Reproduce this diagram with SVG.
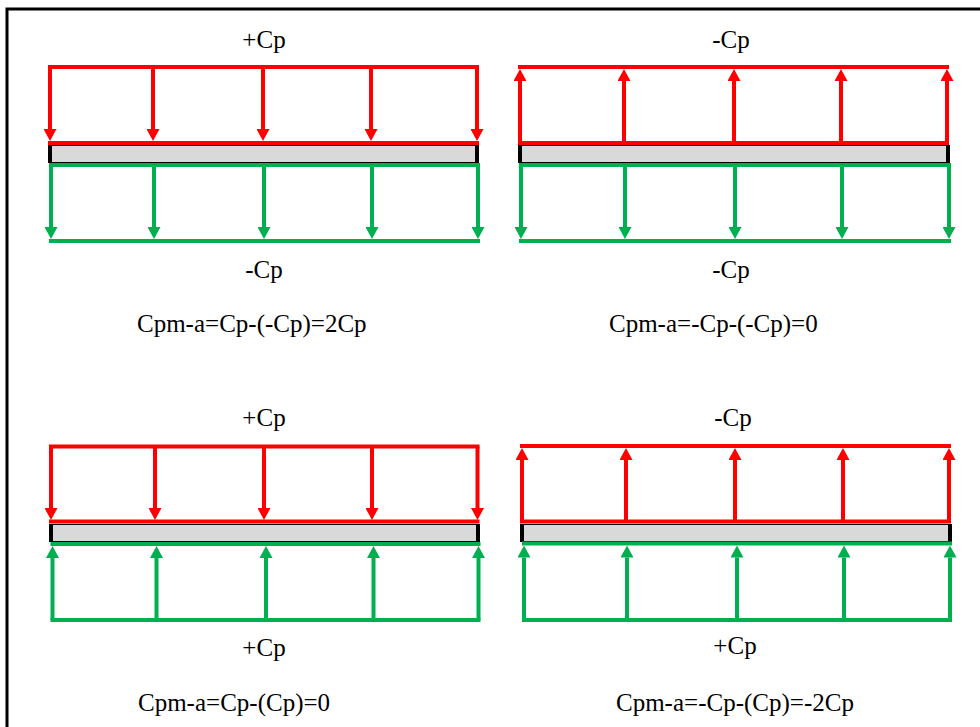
<svg xmlns="http://www.w3.org/2000/svg" width="980" height="727" viewBox="0 0 980 727">
<style>
.r{stroke:#ff0000;stroke-width:4;fill:none;stroke-linecap:square}
.g{stroke:#00b050;stroke-width:4;fill:none;stroke-linecap:square}
.ra{stroke:#ff0000;stroke-width:4;marker-end:url(#mr)}
.ga{stroke:#00b050;stroke-width:4;marker-end:url(#mg)}
.bar{fill:#d9d9d9;stroke:#000;stroke-width:1}
.end{fill:#000}
text{font-family:"Liberation Serif","Times New Roman",serif;font-size:25px;fill:#000}
.c{text-anchor:middle}
</style>
<defs>
<marker id="mr" viewBox="0 0 12 13" markerWidth="12" markerHeight="13" refX="0" refY="6.5" orient="auto" markerUnits="userSpaceOnUse"><path d="M0,0 L12,6.5 L0,13 z" fill="#ff0000"/></marker>
<marker id="mg" viewBox="0 0 12 13" markerWidth="12" markerHeight="13" refX="0" refY="6.5" orient="auto" markerUnits="userSpaceOnUse"><path d="M0,0 L12,6.5 L0,13 z" fill="#00b050"/></marker>
</defs>
<rect x="0" y="0" width="980" height="727" fill="#fff"/>
<rect x="7" y="9" width="1000" height="800" fill="none" stroke="#000" stroke-width="3"/>

<g id="panel-tl">
<line class="r" x1="50" y1="67" x2="477" y2="67"/>
<line class="r" x1="50" y1="143" x2="477" y2="143"/>
<line class="ra" x1="50" y1="67" x2="50" y2="129"/>
<line class="ra" x1="153" y1="67" x2="153" y2="129"/>
<line class="ra" x1="263" y1="67" x2="263" y2="129"/>
<line class="ra" x1="371" y1="67" x2="371" y2="129"/>
<line class="ra" x1="477" y1="67" x2="477" y2="129"/>
<rect class="bar" x="50" y="145.5" width="427" height="17"/>
<rect class="end" x="48" y="145" width="4" height="18"/>
<rect class="end" x="475" y="145" width="4" height="18"/>
<line class="g" x1="51" y1="165" x2="478" y2="165"/>
<line class="g" x1="51" y1="241" x2="478" y2="241"/>
<line class="ga" x1="51" y1="165" x2="51" y2="227"/>
<line class="ga" x1="154" y1="165" x2="154" y2="227"/>
<line class="ga" x1="264" y1="165" x2="264" y2="227"/>
<line class="ga" x1="372" y1="165" x2="372" y2="227"/>
<line class="ga" x1="478" y1="165" x2="478" y2="227"/>
<text class="c" x="264" y="48">+Cp</text>
<text class="c" x="264" y="278">-Cp</text>
<text x="137" y="332">Cpm-a=Cp-(-Cp)=2Cp</text>
</g>

<g id="panel-tr">
<line class="r" x1="520" y1="67" x2="947" y2="67"/>
<line class="r" x1="520" y1="143" x2="947" y2="143"/>
<line class="ra" x1="520" y1="143" x2="520" y2="81"/>
<line class="ra" x1="624" y1="143" x2="624" y2="81"/>
<line class="ra" x1="734" y1="143" x2="734" y2="81"/>
<line class="ra" x1="841" y1="143" x2="841" y2="81"/>
<line class="ra" x1="947" y1="143" x2="947" y2="81"/>
<rect class="bar" x="520" y="145.5" width="428" height="17"/>
<rect class="end" x="518" y="145" width="4" height="18"/>
<rect class="end" x="946" y="145" width="4" height="18"/>
<line class="g" x1="521" y1="165" x2="949" y2="165"/>
<line class="g" x1="521" y1="241" x2="949" y2="241"/>
<line class="ga" x1="521" y1="165" x2="521" y2="227"/>
<line class="ga" x1="625" y1="165" x2="625" y2="227"/>
<line class="ga" x1="735" y1="165" x2="735" y2="227"/>
<line class="ga" x1="842" y1="165" x2="842" y2="227"/>
<line class="ga" x1="949" y1="165" x2="949" y2="227"/>
<text class="c" x="731" y="48">-Cp</text>
<text class="c" x="731" y="278">-Cp</text>
<text x="609" y="332">Cpm-a=-Cp-(-Cp)=0</text>
</g>

<g id="panel-bl">
<line class="r" x1="51" y1="446.5" x2="477.5" y2="446.5"/>
<line class="r" x1="51" y1="521.5" x2="477.5" y2="521.5"/>
<line class="ra" x1="51" y1="446.5" x2="51" y2="508"/>
<line class="ra" x1="155" y1="446.5" x2="155" y2="508"/>
<line class="ra" x1="264" y1="446.5" x2="264" y2="508"/>
<line class="ra" x1="372" y1="446.5" x2="372" y2="508"/>
<line class="ra" x1="477.5" y1="446.5" x2="477.5" y2="508"/>
<rect class="bar" x="51" y="524.5" width="427" height="17"/>
<rect class="end" x="49" y="524" width="4" height="18"/>
<rect class="end" x="476" y="524" width="4" height="18"/>
<line class="g" x1="52.5" y1="544" x2="478.5" y2="544"/>
<line class="g" x1="52.5" y1="620" x2="478.5" y2="620"/>
<line class="ga" x1="52.5" y1="620" x2="52.5" y2="558"/>
<line class="ga" x1="156.5" y1="620" x2="156.5" y2="558"/>
<line class="ga" x1="266" y1="620" x2="266" y2="558"/>
<line class="ga" x1="373.5" y1="620" x2="373.5" y2="558"/>
<line class="ga" x1="478.5" y1="620" x2="478.5" y2="558"/>
<text class="c" x="264" y="426">+Cp</text>
<text class="c" x="264" y="656">+Cp</text>
<text x="138" y="711">Cpm-a=Cp-(Cp)=0</text>
</g>

<g id="panel-br">
<line class="r" x1="522" y1="446" x2="949" y2="446"/>
<line class="r" x1="522" y1="521.5" x2="949" y2="521.5"/>
<line class="ra" x1="522" y1="521.5" x2="522" y2="460"/>
<line class="ra" x1="626" y1="521.5" x2="626" y2="460"/>
<line class="ra" x1="735" y1="521.5" x2="735" y2="460"/>
<line class="ra" x1="843" y1="521.5" x2="843" y2="460"/>
<line class="ra" x1="949" y1="521.5" x2="949" y2="460"/>
<rect class="bar" x="522" y="524.5" width="428" height="17"/>
<rect class="end" x="520" y="524" width="4" height="18"/>
<rect class="end" x="948" y="524" width="4" height="18"/>
<line class="g" x1="524" y1="543.5" x2="950" y2="543.5"/>
<line class="g" x1="524" y1="620" x2="950" y2="620"/>
<line class="ga" x1="524" y1="620" x2="524" y2="557.5"/>
<line class="ga" x1="627" y1="620" x2="627" y2="557.5"/>
<line class="ga" x1="737" y1="620" x2="737" y2="557.5"/>
<line class="ga" x1="844" y1="620" x2="844" y2="557.5"/>
<line class="ga" x1="950" y1="620" x2="950" y2="557.5"/>
<text class="c" x="733" y="426">-Cp</text>
<text class="c" x="735" y="654">+Cp</text>
<text x="616" y="711">Cpm-a=-Cp-(Cp)=-2Cp</text>
</g>
</svg>
